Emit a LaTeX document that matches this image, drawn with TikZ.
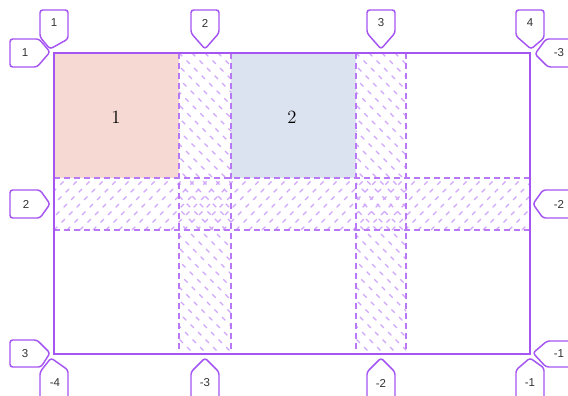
\documentclass[tikz,border=0pt]{standalone}
\usepackage{fontspec}
\newfontfamily\labfont{Liberation Sans}
\definecolor{gl}{RGB}{165,85,242}
\definecolor{gd}{RGB}{185,120,245}
\definecolor{hat}{RGB}{208,165,250}
\definecolor{cone}{RGB}{245,217,210}
\definecolor{ctwo}{RGB}{220,227,240}
\definecolor{lt}{RGB}{50,50,50}
\begin{document}
\begin{tikzpicture}[x=0.75pt,y=-0.75pt,
 lab/.style={draw=gl,line width=1.1pt,fill=white,rounded corners=2pt},
 labtxt/.style={font=\labfont\fontsize{8.6}{10}\selectfont,text=lt,inner sep=0pt},
 hatch/.style={draw=hat,line width=0.9pt,dash pattern=on 3.5pt off 4.5pt},
 gapline/.style={draw=gd,line width=0.9pt,dash pattern=on 4.5pt off 3pt},
 celltxt/.style={font=\fontsize{14}{16}\selectfont,inner sep=0pt}]
\useasboundingbox (0,0) rectangle (568,396);
\clip (0,0) rectangle (568,396);
\fill[white] (0,0) rectangle (568,396);
% cells
\fill[cone] (54,53) rectangle (179,178);
\fill[ctwo] (231,53) rectangle (356,178);
\node[celltxt] (n1) at (116,117) {1};
\node[celltxt] (n2) at (292,117) {2};
% column gap hatching
\begin{scope}
\clip (179,53) rectangle (231,354);
\foreach \k in {-24,...,5} \draw[hatch] ({179+\k*13},53) -- ++(301,301);
\end{scope}
\begin{scope}
\clip (356,53) rectangle (406,354);
\foreach \k in {-24,...,5} \draw[hatch] ({356+\k*13},53) -- ++(301,301);
\end{scope}
% row gap hatching
\begin{scope}
\clip (54,178) rectangle (530,230);
\foreach \k in {0,...,42} \draw[hatch] ({2+\k*13},230) -- ++(52,-52);
\end{scope}
% gap borders
\foreach \x in {179,231,356,406} \draw[gapline] (\x,53) -- (\x,354);
\foreach \y in {178,230} \draw[gapline] (54,\y) -- (530,\y);
% outer border
\draw[draw=gl,line width=1.4pt] (54,53) rectangle (530,354);
% top labels
\draw[lab] (40,37) -- (40,10) -- (68,10) -- (68,39) -- (50,49) -- cycle;
\node[labtxt] (t1) at (54,23) {1};
\draw[lab] (191,33) -- (191,10) -- (219,10) -- (219,33) -- (205,49) -- cycle;
\node[labtxt] (t2) at (205,23) {2};
\draw[lab] (367,33) -- (367,10) -- (395,10) -- (395,33) -- (381,49) -- cycle;
\node[labtxt] (t3) at (381,23) {3};
\draw[lab] (516,36) -- (516,10) -- (544,10) -- (544,38) -- (531,49) -- cycle;
\node[labtxt] (t4) at (530,23) {4};
% left labels
\draw[lab] (39,39) -- (10,39) -- (10,67) -- (37,67) -- (50,52) -- cycle;
\node[labtxt] (l1) at (25,53) {1};
\draw[lab] (40,190) -- (10,190) -- (10,218) -- (40,218) -- (50,204) -- cycle;
\node[labtxt] (l2) at (26,204) {2};
\draw[lab] (37,340) -- (10,340) -- (10,367) -- (41,367) -- (50,353) -- cycle;
\node[labtxt] (l3) at (25,354) {3};
% right labels
\draw[lab] (546,39) -- (575,39) -- (575,67) -- (548,67) -- (535,54) -- cycle;
\node[labtxt] (r3) at (559,53) {-3};
\draw[lab] (543,190) -- (575,190) -- (575,218) -- (543,218) -- (533,204) -- cycle;
\node[labtxt] (r2) at (559,204) {-2};
\draw[lab] (547,341) -- (575,341) -- (575,367) -- (546,367) -- (533,353) -- cycle;
\node[labtxt] (r1) at (559,354) {-1};
% bottom labels
\draw[lab] (40,372) -- (40,400) -- (68,400) -- (68,370) -- (51,358) -- cycle;
\node[labtxt] (b4) at (55,383) {-4};
\draw[lab] (191,372) -- (191,400) -- (219,400) -- (219,372) -- (205,358) -- cycle;
\node[labtxt] (b3) at (205,383) {-3};
\draw[lab] (367,372) -- (367,400) -- (395,400) -- (395,372) -- (381,358) -- cycle;
\node[labtxt] (b2) at (381,383) {-2};
\draw[lab] (516,370) -- (516,400) -- (544,400) -- (544,368) -- (530,358) -- cycle;
\node[labtxt] (b1) at (530,383) {-1};
\end{tikzpicture}
\end{document}
